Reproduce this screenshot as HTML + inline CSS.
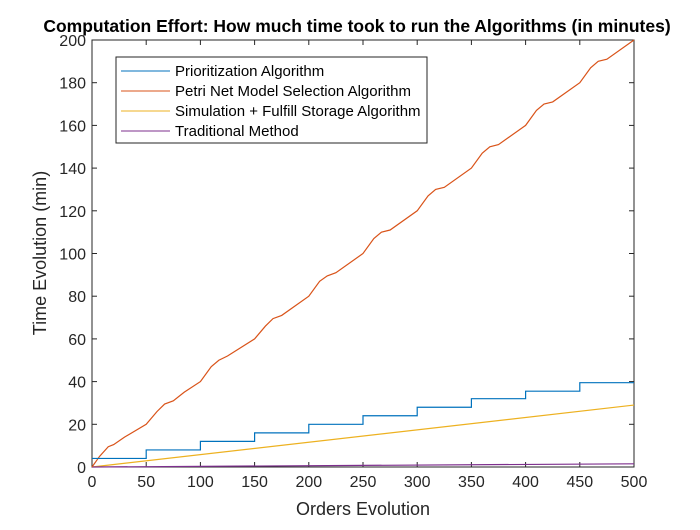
<!DOCTYPE html>
<html><head><meta charset="utf-8"><style>body{margin:0;background:#fff}svg{font-family:"Liberation Sans",Arial,sans-serif}</style></head>
<body>
<svg id="c" width="700" height="525" xmlns="http://www.w3.org/2000/svg"></svg>
<script>
const xTicks=[0,50,100,150,200,250,300,350,400,450,500];
const yTicks=[0,20,40,60,80,100,120,140,160,180,200];
const prioX=[0,50,100,150,200,250,300,350,400,450,500];
const prioY=[4,8,12,16,20,24,28,32,35.5,39.5,39.5];
const petriX=[0,7,15,20,30,50,60,67,75,85,100,110,117,125,150,160,167,175,200,210,217,225,250,260,267,275,300,310,317,325,350,360,367,375,400,410,417,425,450,460,467,475,500];
const petriY=[0,5,9.5,10.5,14,20,26,29.5,31,35,40,47,50,52,60,66,69.5,71,80,87,89.5,91,100,107,110,111,120,127,130,131,140,147,150,151,160,167,170,171,180,187,190,191,200];
const simX=[0,500];
const simY=[0,29];
const tradX=[0,500];
const tradY=[0,1.5];
const L=92,R=634,T=40,B=467;
const sx=v=>L+(v/500)*(R-L), sy=v=>B-(v/200)*(B-T);
const svg=document.getElementById('c');
const NS='http://www.w3.org/2000/svg';
function mk(t,a,p){const e=document.createElementNS(NS,t);for(const k in a)e.setAttribute(k,a[k]);(p||svg).appendChild(e);return e;}
let e=mk('rect',{x:L,y:T,width:R-L,height:B-T,fill:'#fff',stroke:'#262626','stroke-width':1});


xTicks.forEach(v=>{const x=sx(v);
mk('line',{x1:x,x2:x,y1:B,y2:B-5,stroke:'#262626'});mk('line',{x1:x,x2:x,y1:T,y2:T+5,stroke:'#262626'});
const t=mk('text',{x:x,y:B+20,'font-size':16,'text-anchor':'middle',fill:'#262626'});t.textContent=v;

});
yTicks.forEach(v=>{const y=sy(v);
mk('line',{x1:L,x2:L+5,y1:y,y2:y,stroke:'#262626'});mk('line',{x1:R,x2:R-5,y1:y,y2:y,stroke:'#262626'});
const t=mk('text',{x:L-6,y:y+6,'font-size':16,'text-anchor':'end',fill:'#262626'});t.textContent=v;

});
function line(xs,ys,col,name,step){let d='';xs.forEach((x,i)=>{if(i==0)d+='M'+sx(x)+','+sy(ys[i]);else{if(step)d+='L'+sx(x)+','+sy(ys[i-1]);d+='L'+sx(x)+','+sy(ys[i]);}});
const p=mk('path',{d:d,fill:'none',stroke:col,'stroke-width':1.2});

}
line(simX,simY,'#EDB120','series-simulation');
line(tradX,tradY,'#7E2F8E','series-traditional');
line(petriX,petriY,'#D95319','series-petri-net');
line(prioX,prioY,'#0072BD','series-prioritization',true);
const lg=mk('g',{});


mk('rect',{x:116,y:57,width:311,height:86,fill:'#fff',stroke:'#262626'},lg);
const names=['Prioritization Algorithm','Petri Net Model Selection Algorithm','Simulation + Fulfill Storage Algorithm','Traditional Method'];
const cols=['#0072BD','#D95319','#EDB120','#7E2F8E'];
names.forEach((n,i)=>{const y=71+i*20;
mk('line',{x1:121,x2:170,y1:y,y2:y,stroke:cols[i]},lg);
const t=mk('text',{x:175,y:y+5,'font-size':15,fill:'#000'},lg);t.textContent=n;

});
let t=mk('text',{x:357,y:32,'font-size':17.5,'font-weight':'bold','text-anchor':'middle',fill:'#000'});t.textContent='Computation Effort: How much time took to run the Algorithms (in minutes)';


t=mk('text',{x:363,y:515,'font-size':18,'text-anchor':'middle',fill:'#262626'});t.textContent='Orders Evolution';


t=mk('text',{x:0,y:0,'font-size':18,'text-anchor':'middle',fill:'#262626',transform:'translate(46,253) rotate(-90)'});t.textContent='Time Evolution (min)';


</script>
</body></html>
